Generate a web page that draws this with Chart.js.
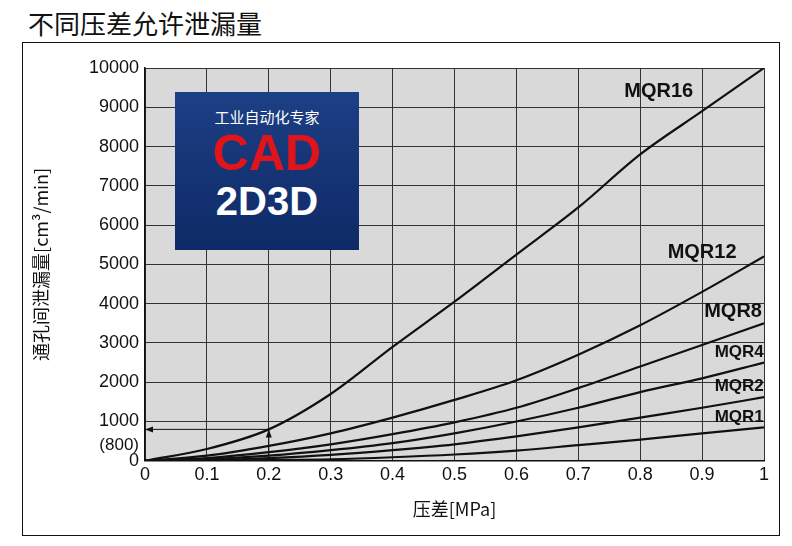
<!DOCTYPE html><html><head><meta charset="utf-8">
<script src="https://cdn.jsdelivr.net/npm/chart.js@4"></script>
<style>body{margin:0;background:#fff;font-family:"Noto Sans CJK SC","Liberation Sans",sans-serif}
#t{position:absolute;left:28px;top:4px;font-size:26px;color:#111}
#w{position:absolute;left:0;top:40px;width:792px;height:506px}
#frame{position:absolute;left:22px;top:42px;width:756px;height:492px;border:1.5px solid #111}
#logo{position:absolute;left:175px;top:92px;width:184px;height:158px;background:linear-gradient(#1d3f85,#0e2a66);color:#fff;text-align:center;font-family:"Liberation Sans",sans-serif}
</style></head><body>
<div id="t">不同压差允许泄漏量</div>
<div id="frame"></div>
<div id="w"><canvas id="c" width="792" height="506"></canvas></div>
<div id="logo"><div style="font-family:'Noto Sans CJK SC';font-size:15px;margin-top:14px">工业自动化专家</div><div style="color:#e0141b;font-size:50px;font-weight:bold;line-height:52px">CAD</div><div style="font-size:40px;font-weight:bold;line-height:44px">2D3D</div></div>
<script>
const xs=[0,0.1,0.2,0.3,0.4,0.5,0.6,0.7,0.8,0.9,1];
const names=["MQR16","MQR12","MQR8","MQR4","MQR2","MQR1"];
const MQR16=[0,300,800,1700,2900,4050,5250,6450,7800,8900,10000];
const MQR12=[0,130,380,700,1100,1550,2050,2700,3450,4300,5200];
const MQR8=[0,70,220,420,680,980,1350,1850,2400,2950,3500];
const MQR4=[0,40,130,270,450,700,1000,1350,1750,2100,2500];
const MQR2=[0,20,70,150,270,420,620,850,1100,1350,1620];
const MQR1=[0,5,20,40,90,160,260,400,540,700,850];
const series=[MQR16,MQR12,MQR8,MQR4,MQR2,MQR1];
const yTicks=[0,1000,2000,3000,4000,5000,6000,7000,8000,9000,10000];
const labelPos=[[0.83,9400,20],[0.9,5300,20],[0.95,3800,20],[0.96,2750,17],[0.96,1900,17],[0.96,1100,17]];
const extra={id:'ex',afterDraw(ch){const c=ch.ctx,x=ch.scales.x,y=ch.scales.y;c.save();c.fillStyle='#111';
labelPos.forEach((p,i)=>{c.font='bold '+p[2]+'px "Liberation Sans"';c.textAlign='center';c.textBaseline='middle';c.fillText(names[i],x.getPixelForValue(p[0]),y.getPixelForValue(p[1]));});
c.font='17px "Liberation Sans"';c.textAlign='right';c.fillText('(800)',x.left-6,y.getPixelForValue(800)+16);
c.strokeStyle='#111';c.lineWidth=1;const yy=y.getPixelForValue(800),x2=x.getPixelForValue(0.2);
c.beginPath();c.moveTo(x.left,yy);c.lineTo(x2,yy);c.moveTo(x2,yy);c.lineTo(x2,y.getPixelForValue(0));c.stroke();
c.beginPath();c.moveTo(x.left,yy);c.lineTo(x.left+8,yy-3);c.lineTo(x.left+8,yy+3);c.fill();
c.beginPath();c.moveTo(x2,yy);c.lineTo(x2-3,yy+8);c.lineTo(x2+3,yy+8);c.fill();c.restore();}};
const bg={id:'bg',beforeDraw(ch){const a=ch.chartArea,c=ch.ctx;c.fillStyle='#d9d9d9';c.fillRect(a.left,a.top,a.right-a.left,a.bottom-a.top);}};
new Chart(document.getElementById('c'),{type:'line',data:{labels:xs,datasets:series.map((s,i)=>({label:names[i],data:s.map((v,j)=>({x:xs[j],y:v})),borderColor:'#111',borderWidth:2.2,pointRadius:0,tension:0.4,cubicInterpolationMode:'monotone'}))},
options:{animation:false,responsive:false,maintainAspectRatio:false,layout:{padding:{right:28,top:28,bottom:22}},plugins:{legend:{display:false},tooltip:{enabled:false}},
scales:{x:{type:'linear',min:0,max:1,afterBuildTicks:a=>{a.ticks=xs.map(v=>({value:v}))},ticks:{autoSkip:false,maxRotation:0,color:'#111',font:{size:18,family:'Liberation Sans'},callback:v=>v===0?'0':v===1?'1':v.toFixed(1)},grid:{color:'#333',drawTicks:false},border:{color:'#111',width:1.5},title:{display:true,text:'压差[MPa]',color:'#111',font:{size:18,family:'Noto Sans CJK SC'},padding:{top:10}}},
y:{min:0,max:10000,afterBuildTicks:a=>{a.ticks=yTicks.map(v=>({value:v}))},afterFit:a=>{a.width=145;},ticks:{autoSkip:false,color:'#111',font:{size:18,family:'Liberation Sans'},padding:6,callback:v=>String(v)},grid:{color:'#333',drawTicks:false},border:{color:'#111',width:1.5},title:{display:true,text:'通孔间泄漏量[cm³/min]',color:'#111',font:{size:18,family:'Noto Sans CJK SC'},padding:{top:30,bottom:0}}}}},plugins:[bg,extra]});
</script></body></html>
